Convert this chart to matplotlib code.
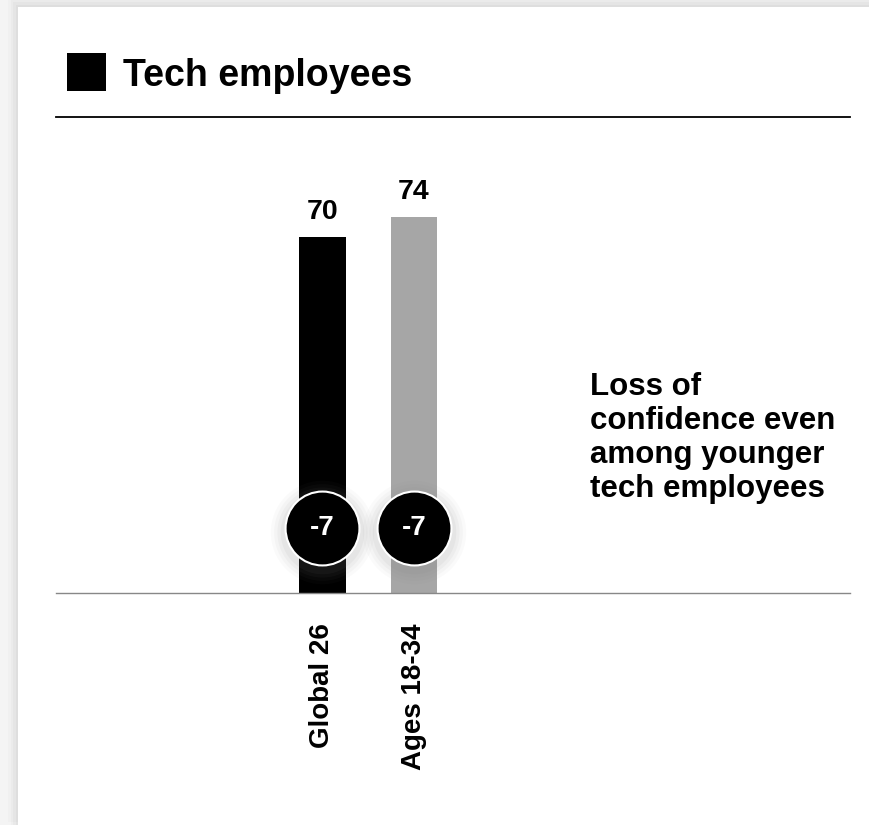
import numpy as np
import matplotlib.pyplot as plt
from matplotlib.patches import Rectangle

plt.rcParams['font.family'] = ['Liberation Sans', 'DejaVu Sans']

# data
categories = ['Global 26', 'Ages 18-34']
values = [70, 74]
changes = [-7, -7]
bar_colors = ['#000000', '#a6a6a6']
title = 'Tech employees'
note = 'Loss of\nconfidence even\namong younger\ntech employees'

W, H = 869, 825
fig = plt.figure(figsize=(W / 100, H / 100), dpi=100)
fig.patch.set_facecolor('#f4f4f4')

# card with a soft shadow
bg = fig.add_axes([0, 0, 1, 1])
bg.set_xlim(0, W)
bg.set_ylim(H, 0)
bg.axis('off')
for i, a in enumerate([0.05, 0.07, 0.09, 0.12]):
    d = 10 - i * 2.5
    bg.add_patch(Rectangle((18 - d, 7 - d), W, H, color='#b0b0b0', alpha=a, lw=0))
bg.add_patch(Rectangle((18, 7), W, H, color='white', lw=0))

# header
bg.add_patch(Rectangle((67, 53), 39, 38, color='black', lw=0))
bg.text(123, 76, title, fontsize=27, fontweight='bold', va='center', ha='left')
bg.plot([56, 850], [117, 117], color='black', lw=1.3)

# bar chart axes, pixel-mapped
base_y = 593
x0, x1 = 56, 850
px_per_unit = 91.5
center0 = 322.5
ax = fig.add_axes([x0 / W, (H - base_y) / H, (x1 - x0) / W, 508 / H])
ax.set_xlim(-(center0 - x0) / px_per_unit, (x1 - center0) / px_per_unit)
ax.set_ylim(0, 100)
ax.patch.set_alpha(0)
for s in ['top', 'right', 'left']:
    ax.spines[s].set_visible(False)
ax.spines['bottom'].set_color('#888888')
ax.spines['bottom'].set_linewidth(1)
ax.set_yticks([])

x = np.arange(len(categories))
ax.bar(x, values, width=0.51, color=bar_colors)
for xi, v in zip(x, values):
    ax.text(xi, v + 2.4, str(v), ha='center', va='bottom', fontsize=20.5, fontweight='bold')

# change bubbles with a soft glow
cy = 12.8
for k, a in enumerate([0.035, 0.045, 0.055, 0.07]):
    ax.scatter(x, [cy - 0.8] * len(x), s=2830 * (1.4 - k * 0.09) ** 2, color='#808080', alpha=a, lw=0, zorder=3)
ax.scatter(x, [cy] * len(x), s=2830, color='black', edgecolors='white', linewidths=1.5, zorder=4)
for xi, c in zip(x, changes):
    ax.text(xi, cy, str(c), ha='center', va='center', color='white', fontsize=20, fontweight='bold', zorder=5)

ax.set_xticks(x)
ax.set_xticklabels(categories, rotation=90, fontsize=20, fontweight='bold')
ax.tick_params(axis='x', length=0, pad=22)

bg.text(590, 438, note, fontsize=22.5, fontweight='bold', va='center', ha='left', linespacing=1.16)

fig.savefig('out.png', dpi=100)
